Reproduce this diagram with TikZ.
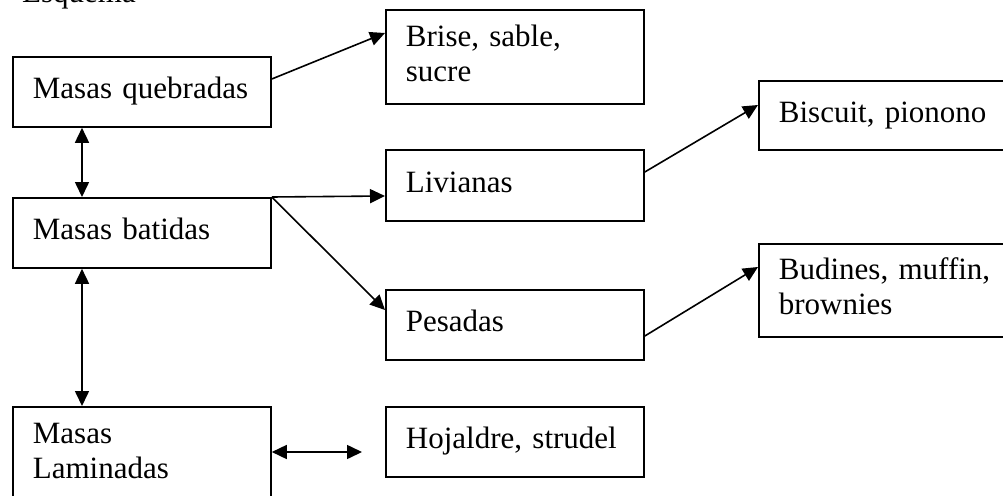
\documentclass[tikz,border=0pt]{standalone}
\usepackage{fontspec}
\setmainfont{Liberation Serif}
\usepackage{tikz}
\usetikzlibrary{arrows.meta}
\usetikzlibrary{calc}
\tikzset{
    bloque/.style={
      rectangle,
      draw=black,
      line width=1.8pt,
      anchor=north west,
      minimum width=258pt,
      minimum height=70pt,
      text width=218pt,
      inner xsep=20pt,
      inner ysep=0pt,
      align=left,
      font=\fontsize{31}{35}\selectfont,
      execute at begin node=\strut,
      execute at end node=\strut
    },
    flecha/.style={
      line width=1.6pt,
      -{Triangle[length=15pt,width=14pt]}
    },
    dobleflecha/.style={
      line width=1.6pt,
      {Triangle[length=15pt,width=14pt]}-{Triangle[length=15pt,width=14pt]}
    },
}

\begin{document}
\begin{tikzpicture}[x=1pt,y=-1pt]
    \useasboundingbox (0,0) rectangle (1003,495);

    \draw (22,2.5) node[anchor=base west,inner sep=0pt,font=\fontsize{31}{35}\selectfont] (ES) {Esquema};

    \draw (12,56) node[bloque,minimum width=257pt] (MQ) {Masas quebradas};
    \draw (12,197) node[bloque,minimum width=257pt] (MB) {Masas batidas};
    \draw (12,406) node[bloque,minimum width=257pt,minimum height=94pt] (ML) {Masas\\Laminadas};
    \draw (385,9) node[bloque,minimum height=94pt] (BS) {Brise, sable,\\sucre};
    \draw (385,149) node[bloque,minimum height=71pt] (LI) {Livianas};
    \draw (385,289) node[bloque] (PE) {Pesadas};
    \draw (385,406) node[bloque] (HO) {Hojaldre, strudel};
    \draw (758,80) node[bloque,minimum height=69pt] (BI) {Biscuit, pionono};
    \draw (758,243) node[bloque,minimum height=93pt] (BU) {Budines, muffin,\\brownies};
    \coordinate (HL) at (362,452);

    \path ($(MQ.north east)+(0,23)$) edge[flecha] ($(BS.north west)+(0,24)$);
    \path (MB.north east) edge[flecha] ($(LI.north west)+(0,47)$);
    \path (MB.north east) edge[flecha] ($(PE.north west)+(0,21)$);
    \path ($(LI.north east)+(0,23)$) edge[flecha] ($(BI.north west)+(0,25)$);
    \path ($(PE.north east)+(0,47)$) edge[flecha] ($(BU.north west)+(0,24)$);
    \path ($(MQ.south west)+(70,0)$) edge[dobleflecha] ($(MB.north west)+(70,0)$);
    \path ($(MB.south west)+(70,0)$) edge[dobleflecha] ($(ML.north west)+(70,0)$);
    \path ($(ML.north east)+(0,46)$) edge[dobleflecha] (HL);
\end{tikzpicture}
\end{document}
